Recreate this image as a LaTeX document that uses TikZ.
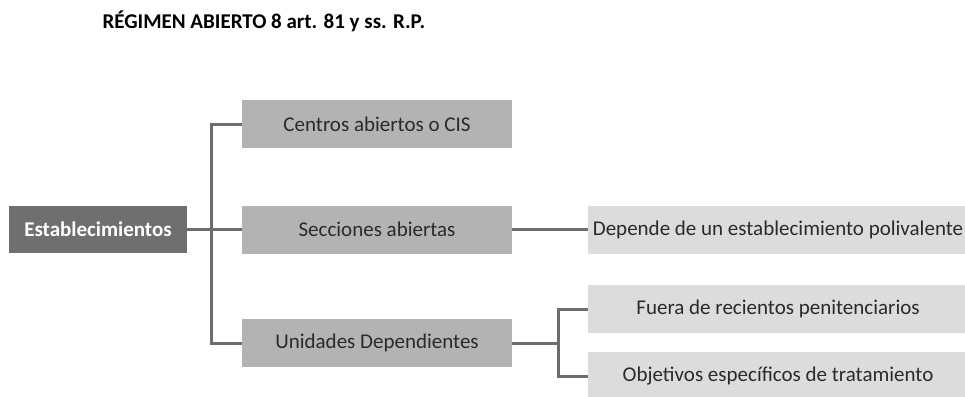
\documentclass[tikz,border=0pt]{standalone}
\usepackage{fontspec}
\setmainfont{Carlito}
\usepackage{tikz}
\usetikzlibrary{positioning,calc}

\definecolor{darkbox}{HTML}{6F6F6F}
\definecolor{midbox}{HTML}{B3B3B3}
\definecolor{lightbox}{HTML}{DCDCDC}
\definecolor{linkgray}{HTML}{6D6D6D}
\definecolor{txtgray}{HTML}{2A2A2A}

\begin{document}
\begin{tikzpicture}[
            x=1pt, y=-1pt,
            rootbox/.style={rectangle, fill=darkbox, minimum width=178pt, minimum height=47pt, inner sep=0pt, align=center, text=white, font=\fontsize{21}{24}\selectfont\bfseries},
            midnode/.style={rectangle, fill=midbox, minimum width=270pt, minimum height=48pt, inner sep=0pt, align=center, text=txtgray, font=\fontsize{21}{24}\selectfont},
            leafnode/.style={rectangle, fill=lightbox, minimum width=380pt, minimum height=48pt, inner sep=0pt, align=center, text=txtgray, font=\fontsize{21}{24}\selectfont},
            link/.style={draw=linkgray, line width=3pt}
        ]
            \useasboundingbox (0,0) rectangle (965,396);

            % Title
            \node[anchor=west, font=\fontsize{21}{24}\selectfont\bfseries] (title) at (99,21) {RÉGIMEN ABIERTO 8 art. 81 y ss. R.P.};

            % Level 1
            \node[rootbox] (estab) at (98,229.5) {Establecimientos};

            % Level 2
            \node[midnode] (centros) at (377,124) {Centros abiertos o CIS};
            \node[midnode] (secciones) at (377,229.5) {Secciones abiertas};
            \node[midnode] (unidades) at (377,343) {Unidades Dependientes};

            % Level 3
            \node[leafnode] (depende) at (778,229.5) {Depende de un establecimiento polivalente};
            \node[leafnode] (fuera) at (778,309) {Fuera de recientos penitenciarios};
            \node[leafnode] (objetivos) at (778,376) {Objetivos específicos de tratamiento};

            % Connectors
            \coordinate (trunk) at (211,229.5);
            \coordinate (split) at (558,343);
            \draw[link] (estab) -- (secciones);
            \draw[link] (centros.west) -| (trunk) |- (unidades.west);
            \draw[link] (secciones) -- (depende);
            \draw[link] (unidades) -- (split);
            \draw[link] (fuera.west) -| (split) |- (objetivos.west);
        \end{tikzpicture}
\end{document}
